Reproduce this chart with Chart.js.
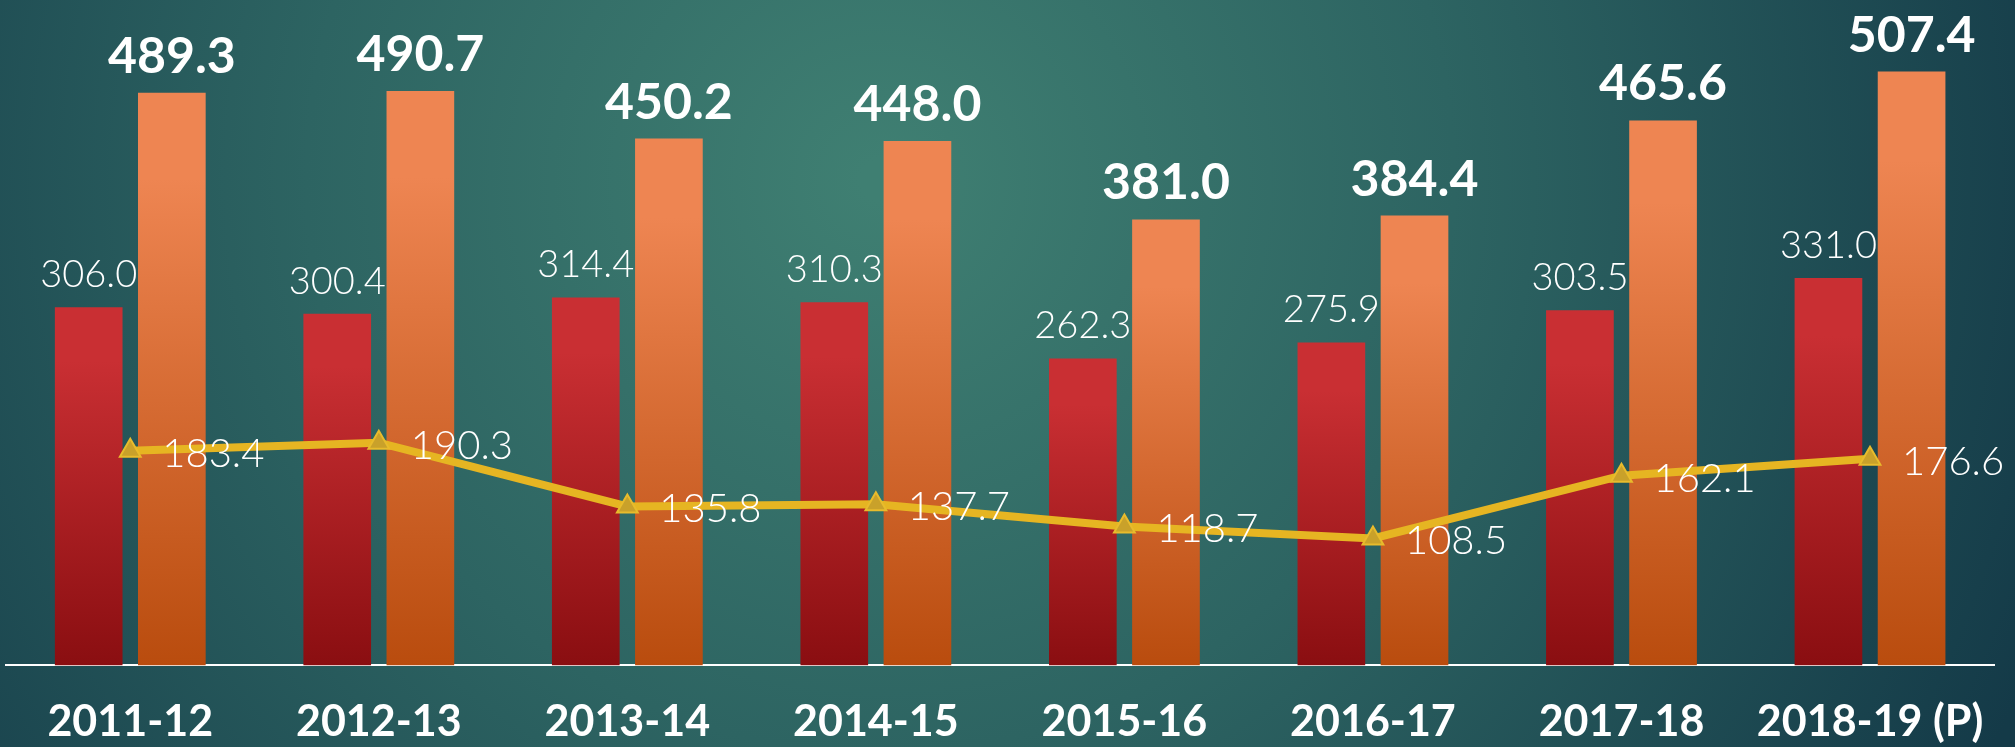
<!DOCTYPE html>
<html>
<head>
<meta charset="utf-8">
<script src="https://cdn.jsdelivr.net/npm/chart.js@4"></script>
<style>
  html, body { margin: 0; padding: 0; background: #1d4b55; }
  canvas { display: block; }
</style>
</head>
<body>
<canvas id="chart" width="2015" height="747"></canvas>
<script>
// data
const years = ['2011-12', '2012-13', '2013-14', '2014-15', '2015-16', '2016-17', '2017-18', '2018-19 (P)'];
const redValues = [306.0, 300.4, 314.4, 310.3, 262.3, 275.9, 303.5, 331.0];
const orangeValues = [489.3, 490.7, 450.2, 448.0, 381.0, 384.4, 465.6, 507.4];
const lineValues = [183.4, 190.3, 135.8, 137.7, 118.7, 108.5, 162.1, 176.6];

const ctx = document.getElementById('chart').getContext('2d');

// gradient running from the top of each bar down to the axis
function barGradient(context, top, bottom) {
    const chart = context.chart;
    const area = chart.chartArea;
    if (!area || context.raw === undefined) return top;
    const y = chart.scales.y.getPixelForValue(context.raw);
    const g = chart.ctx.createLinearGradient(0, y, 0, area.bottom);
    g.addColorStop(0, top);
    g.addColorStop(0.15, top);
    g.addColorStop(1, bottom);
    return g;
}

// teal background behind everything
const backdrop = {
    id: 'backdrop',
    beforeDraw(chart) {
        const c = chart.ctx;
        const w = chart.width, h = chart.height;
        c.save();
        const g = c.createRadialGradient(880, 180, 20, 880, 180, 1250);
        g.addColorStop(0, '#3f7f72');
        g.addColorStop(0.45, '#2d6462');
        g.addColorStop(1, '#143a48');
        c.fillStyle = g;
        c.fillRect(0, 0, w, h);
        c.restore();
    }
};

// value labels: bold above orange, light above red, right of the line points
const valueLabels = {
    id: 'valueLabels',
    afterDatasetsDraw(chart) {
        const c = chart.ctx;
        c.save();
        c.fillStyle = '#ffffff';
        chart.data.datasets.forEach((ds, i) => {
            const meta = chart.getDatasetMeta(i);
            meta.data.forEach((el, j) => {
                const txt = ds.data[j].toFixed(1);
                if (ds.type === 'line') {
                    c.font = '300 40px Lato, "Open Sans", sans-serif';
                    c.textAlign = 'left';
                    c.textBaseline = 'middle';
                    c.fillText(txt, el.x + 32, el.y + 3);
                } else if (ds.label === 'orange') {
                    c.font = 'bold 50px Lato, "Open Sans", sans-serif';
                    c.textAlign = 'center';
                    c.textBaseline = 'alphabetic';
                    c.fillText(txt, el.x, el.y - 20);
                } else {
                    c.font = '300 38px Lato, "Open Sans", sans-serif';
                    c.textAlign = 'center';
                    c.textBaseline = 'alphabetic';
                    c.fillText(txt, el.x, el.y - 20);
                }
            });
        });
        c.restore();
    }
};

new Chart(ctx, {
    data: {
        labels: years,
        datasets: [{
            type: 'line',
            label: 'line',
            data: lineValues,
            order: 0,
            borderColor: '#e6b522',
            borderWidth: 8,
            tension: 0,
            pointStyle: 'triangle',
            pointRadius: 12,
            pointBackgroundColor: '#c9a12a',
            pointBorderColor: '#e8bb2c',
            pointBorderWidth: 2
        }, {
            type: 'bar',
            label: 'red',
            data: redValues,
            order: 1,
            backgroundColor: (c) => barGradient(c, '#c92f33', '#8a0e11'),
            categoryPercentage: 0.669,
            barPercentage: 0.814
        }, {
            type: 'bar',
            label: 'orange',
            data: orangeValues,
            order: 1,
            backgroundColor: (c) => barGradient(c, '#ee8552', '#b94c0e'),
            categoryPercentage: 0.669,
            barPercentage: 0.814
        }]
    },
    options: {
        responsive: false,
        animation: false,
        layout: {
            autoPadding: false,
            padding: { left: 6, right: 13, top: 10, bottom: -32 }
        },
        plugins: {
            legend: { display: false },
            tooltip: { enabled: false }
        },
        scales: {
            x: {
                grid: { display: false, drawTicks: false },
                border: { display: true, color: '#ffffff', width: 2 },
                ticks: {
                    color: '#ffffff',
                    padding: 31,
                    maxRotation: 0,
                    autoSkip: false,
                    font: { family: 'Lato, "Open Sans", sans-serif', size: 43, weight: 'bold', lineHeight: 1.2 }
                }
            },
            y: {
                display: false,
                min: 0,
                max: 560
            }
        }
    },
    plugins: [backdrop, valueLabels]
});
</script>
</body>
</html>
